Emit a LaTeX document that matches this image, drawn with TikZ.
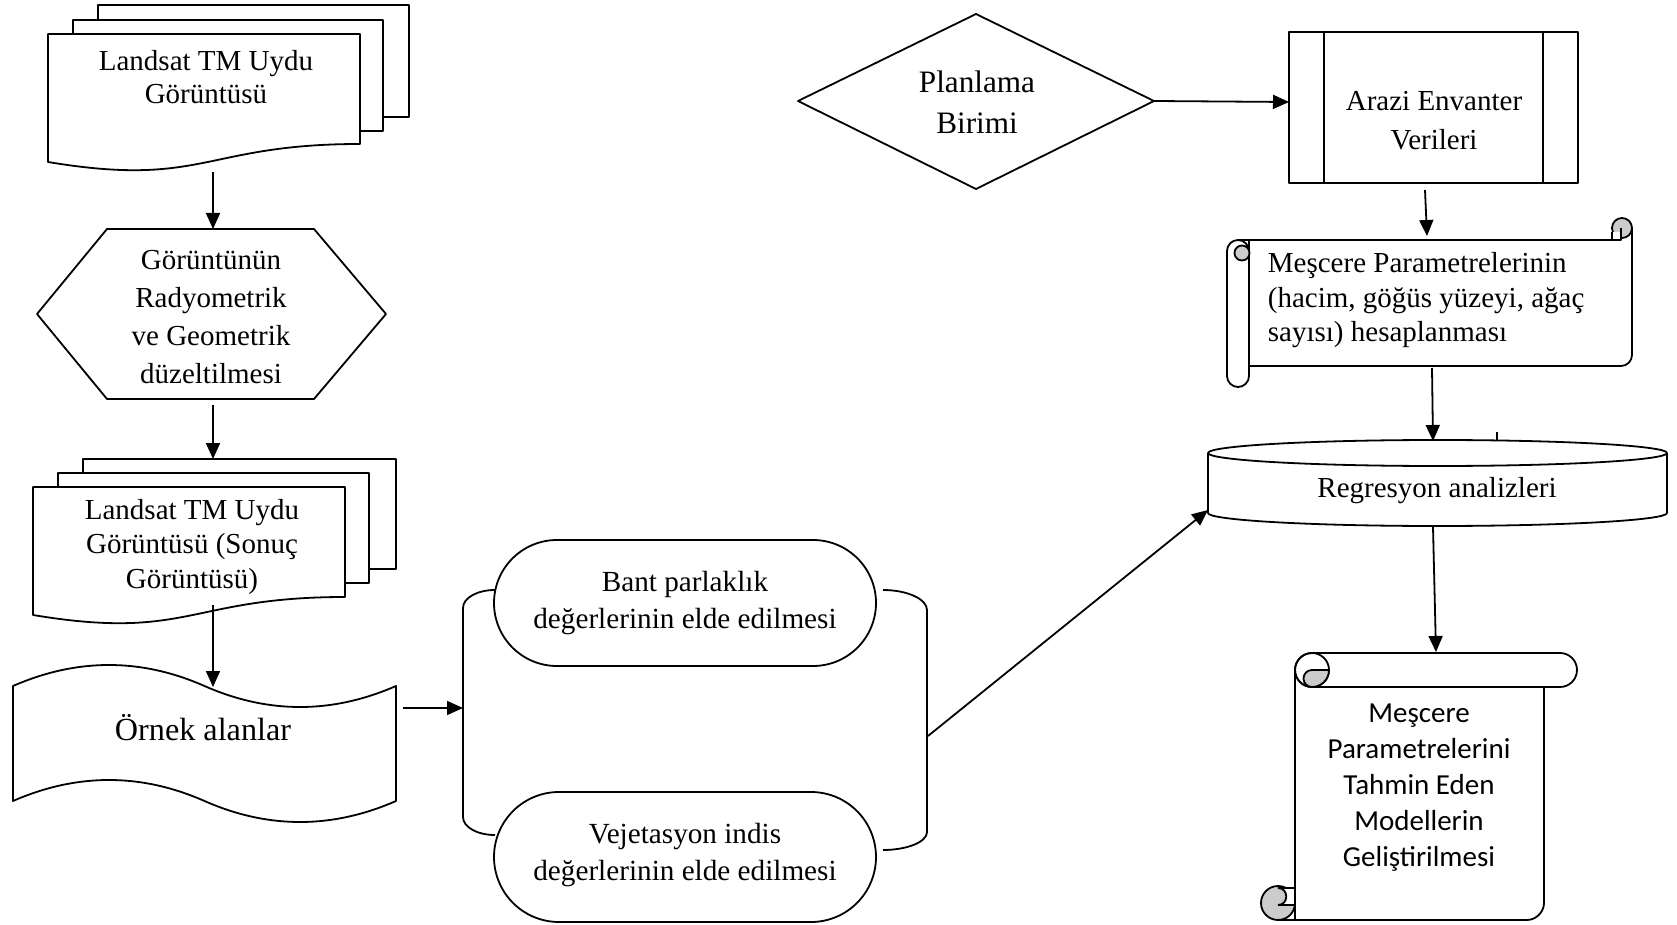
\documentclass[tikz,border=0pt]{standalone}
\usepackage{fontspec}
\setmainfont{Liberation Serif}
\newfontfamily\carlitofont{Carlito}
\usetikzlibrary{arrows.meta}
\begin{document}
\begin{tikzpicture}[x=0.5pt,y=-0.5pt,line width=0.9pt,
  shp/.style={draw=black,fill=white,line join=round},
  curl/.style={draw=black,fill=black!20},
  arr/.style={-{Triangle[length=8pt,width=7pt]}},
  txt/.style={align=center,inner sep=0pt},
  f/.style={font=\fontsize{14.5}{#1}\selectfont}]
\useasboundingbox (0,0) rectangle (1677,925);

% ---------- multi-document 1
\draw[shp] (98,5) rectangle (409,117);
\draw[shp] (73,20) rectangle (383,131);
\draw[shp] (48,34) -- (360,34) -- (360,144) .. controls (204,144) and (204,188) .. (48,162) -- cycle;
\node[txt,f=16.5] (t1) at (206,77.5) {Landsat TM Uydu\\Görüntüsü};

% ---------- hexagon
\draw[shp] (37,314) -- (107,229) -- (314,229) -- (386,314) -- (314,399) -- (107,399) -- cycle;
\node[txt,f=19] (t2) at (211,317.5) {Görüntünün\\Radyometrik\\ve Geometrik\\düzeltilmesi};

% ---------- multi-document 2
\draw[shp] (83,459) rectangle (396,569);
\draw[shp] (58,473) rectangle (369,583);
\draw[shp] (33,487) -- (345,487) -- (345,597) .. controls (189,597) and (189,641) .. (33,615) -- cycle;
\node[txt,f=17.4] (t3) at (192,547) {Landsat TM Uydu\\Görüntüsü (Sonuç\\Görüntüsü)};

% ---------- punched tape
\draw[shp] (13,686) .. controls (77,658) and (141,658) .. (204.5,686)
  .. controls (268,714) and (332,714) .. (396,686) -- (396,801)
  .. controls (332,829) and (268,829) .. (204.5,801)
  .. controls (141,773) and (77,773) .. (13,801) -- cycle;
\node[inner sep=0pt,anchor=base,font=\fontsize{16.1}{18}\selectfont] (t4) at (203,740) {Örnek alanlar};

% ---------- bracket and terminators
\draw (495,590) .. controls (477,590) and (463,598) .. (463,608) -- (463,817)
  .. controls (463,827) and (477,835) .. (495,835);
\draw (883,590) .. controls (907,590) and (927,599) .. (927,610) -- (927,832)
  .. controls (927,842) and (907,850) .. (883,850);
\draw[shp,rounded corners=31.5pt] (494,540) rectangle (876,666);
\draw[shp,rounded corners=32.5pt] (494,792) rectangle (876,922);
\node[txt,font=\fontsize{14.6}{18.5}\selectfont] (t9) at (685,603.5) {Bant parlaklık\\değerlerinin elde edilmesi};
\node[txt,font=\fontsize{14.6}{18.5}\selectfont] (t10) at (685,855.5) {Vejetasyon indis\\değerlerinin elde edilmesi};

% ---------- diamond
\draw[shp] (798,101) -- (976,14) -- (1154,101) -- (976,189) -- cycle;
\node[txt,font=\fontsize{15.6}{20.3}\selectfont] (t5) at (977,102) {Planlama\\Birimi};

% ---------- predefined process
\draw[shp] (1289,32) rectangle (1578,183);
\draw (1324,32) -- (1324,183);
\draw (1543,32) -- (1543,183);
\node[txt,f=19.5] (t6) at (1434,120.5) {Arazi Envanter\\Verileri};

% ---------- horizontal scroll
\draw[shp] (1238,240) -- (1621,240) -- (1621,228) -- (1632,228) -- (1632,355)
  .. controls (1632,361) and (1627,366) .. (1621,366) -- (1249,366) -- (1249,240);
\draw[curl] (1622,228) circle[radius=10];
\fill[white] (1612.5,232) rectangle (1620.5,239.5);
\draw (1612,240) -- (1612,232);
\draw (1621,228) -- (1621,240);
\draw (1612,240) -- (1621,240);
\draw[shp,rounded corners=5.5pt] (1227,240) rectangle (1249,387);
\draw[curl] (1242,253) circle[radius=7.5];
\node[align=left,inner sep=0pt,anchor=west,f=17.25] (t7) at (1267,300.5) {Meşcere Parametrelerinin\\(hacim, göğüs yüzeyi, ağaç\\sayısı) hesaplanması};

% ---------- cylinder
\draw[shp] (1208,453) -- (1208,513) arc[start angle=180,end angle=0,x radius=229.5,y radius=13] -- (1667,453);
\draw[shp] (1437.5,453) ellipse[x radius=229.5,y radius=13];
\draw (1497,432) -- (1497,440);
\node[inner sep=0pt,anchor=base,f=17] (t8) at (1437,497) {Regresyon analizleri};

% ---------- vertical scroll
\draw[shp] (1295,670) -- (1295,920) -- (1527,920) .. controls (1536,920) and (1544,912) .. (1544,903) -- (1544,687) -- cycle;
\draw[curl] (1278,903) circle[radius=17];
\draw (1278,920) -- (1295,920);
\draw[fill=white] (1278,888) -- (1295,888) -- (1295,905) -- (1278,905) .. controls (1289,905) and (1289,888) .. (1278,888) -- cycle;
\draw[shp,rounded corners=8.5pt] (1295,653) rectangle (1577,687);
\draw (1312,670) circle[radius=17];
\draw[curl] (1312,670) -- (1329,670) arc[start angle=0,end angle=90,radius=17]
  arc[start angle=90,end angle=270,radius=8.5] -- cycle;
\node[txt,font=\carlitofont\fontsize{14.5}{18}\selectfont] (t11) at (1419,788) {Meşcere\\Parametrelerini\\Tahmin Eden\\Modellerin\\Geliştirilmesi};

% ---------- connector end points
\coordinate (c1a) at (213,172);  \coordinate (c1b) at (213,229);
\coordinate (c2a) at (213,405);  \coordinate (c2b) at (213,459);
\coordinate (c3a) at (213,605);  \coordinate (c3b) at (213,687);
\coordinate (c4a) at (403,708);  \coordinate (c4b) at (463,708);
\coordinate (c5a) at (928,736);  \coordinate (c5b) at (1208,510);
\coordinate (c6a) at (1154,101); \coordinate (c6b) at (1289,102);
\coordinate (c7a) at (1425,190); \coordinate (c7b) at (1427,236);
\coordinate (c8a) at (1432,368); \coordinate (c8b) at (1433,441);
\coordinate (c9a) at (1433,527); \coordinate (c9b) at (1436,652);

\draw[arr] (c1a) -- (c1b);
\draw[arr] (c2a) -- (c2b);
\draw[arr] (c3a) -- (c3b);
\draw[arr] (c4a) -- (c4b);
\draw[arr] (c5a) -- (c5b);
\draw[arr] (c6a) -- (c6b);
\draw[arr] (c7a) -- (c7b);
\draw[arr] (c8a) -- (c8b);
\draw[arr] (c9a) -- (c9b);
\end{tikzpicture}
\end{document}
